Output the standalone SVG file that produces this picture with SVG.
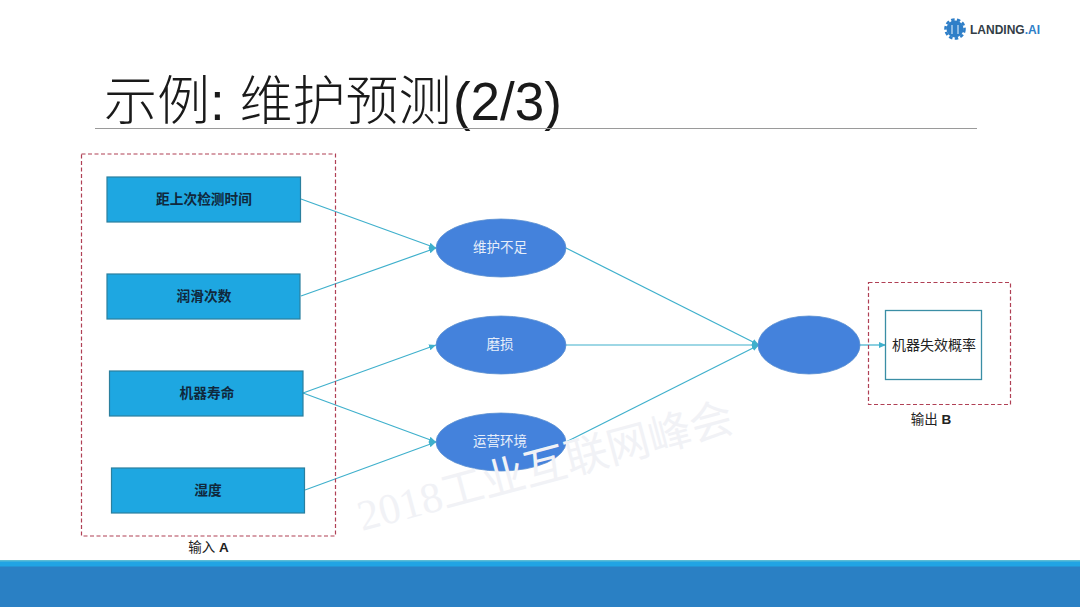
<svg xmlns="http://www.w3.org/2000/svg" width="1080" height="607" viewBox="0 0 1080 607">
<style>
text{font-family:"Liberation Sans","Noto Sans CJK SC",sans-serif;text-anchor:middle}
.box{fill:#1ea7e1;stroke:#2a7f9e;stroke-width:1.2}
.ell{fill:#4482dc;stroke:#5b8fd0;stroke-width:.8}
.frame{fill:none;stroke:#b04055;stroke-width:1.2;stroke-dasharray:4 2.5}
.c{fill:none;stroke:#3fb0cc;stroke-width:1.2;marker-end:url(#a)}
.bt{font-size:13.700px;font-weight:700;fill:#10283c}
.et{font-size:13.500px;fill:#e6eefa}
.cap{font-size:13.500px;fill:#222}
</style>
<defs><marker id="a" markerWidth="8" markerHeight="8" refX="7" refY="3.500" orient="auto" markerUnits="userSpaceOnUse"><path d="M0 .5L7 3.500L0 6.500z" fill="#3fb0cc"/></marker></defs>
<rect width="1080" height="607" fill="#fff"/>
<g id="logo">
<circle cx="955" cy="29" r="8.500" fill="#2f7fc8"/>
<circle cx="955" cy="29" r="9.500" fill="none" stroke="#2f7fc8" stroke-width="2.600" stroke-dasharray="3.500 2.300"/>
<path d="M952 25v9M958 25v9" stroke="#cfe3f5" stroke-width="1.200"/>
<text x="970" y="33.500" font-size="12" font-weight="700" fill="#333d47" style="text-anchor:start">LANDING<tspan fill="#2f7fc8">.AI</tspan></text>
</g>
<g id="title">
<text x="104" y="120" font-size="53" font-weight="300" fill="#1a1a1a" style="text-anchor:start" xml:space="preserve">示例: 维护预测<tspan dx="1.500">(2/3)</tspan></text>
<line x1="95" y1="128.500" x2="977" y2="128.500" stroke="#9a9a9a" stroke-width="1"/>
</g>
<g id="connectors">
<line class="c" x1="301" y1="199" x2="436" y2="248"/>
<line class="c" x1="301" y1="296" x2="436" y2="248"/>
<line class="c" x1="303" y1="393" x2="436" y2="345"/>
<line class="c" x1="303" y1="393" x2="436" y2="442"/>
<line class="c" x1="305" y1="490" x2="436" y2="442"/>
<line class="c" x1="566" y1="248" x2="759" y2="345"/>
<line class="c" x1="566" y1="345" x2="759" y2="345"/>
<line class="c" x1="566" y1="442" x2="759" y2="345"/>
<line class="c" x1="860" y1="345" x2="886" y2="345"/>
</g>
<g id="input-frame"><rect class="frame" x="81.500" y="154" width="254" height="382"/><text class="cap" x="208.500" y="552">输入 <tspan font-weight="700">A</tspan></text></g>
<g id="n1"><rect class="box" x="107" y="177" width="193.500" height="45"/><text class="bt" x="204" y="204">距上次检测时间</text></g>
<g id="n2"><rect class="box" x="107" y="274" width="193" height="45"/><text class="bt" x="204" y="301">润滑次数</text></g>
<g id="n3"><rect class="box" x="109.500" y="371" width="193.500" height="45"/><text class="bt" x="207" y="398">机器寿命</text></g>
<g id="n4"><rect class="box" x="111.500" y="468" width="193" height="45"/><text class="bt" x="208" y="495">湿度</text></g>
<g id="e1"><ellipse class="ell" cx="501" cy="248" rx="65" ry="29"/><text class="et" x="500" y="252">维护不足</text></g>
<g id="e2"><ellipse class="ell" cx="501" cy="345" rx="65" ry="29"/><text class="et" x="500" y="349">磨损</text></g>
<g id="e3"><ellipse class="ell" cx="501" cy="442" rx="65" ry="29"/><text class="et" x="500" y="446">运营环境</text></g>
<g id="e4"><ellipse class="ell" cx="809" cy="345" rx="51" ry="29"/></g>
<g id="output-frame"><rect class="frame" x="868.500" y="282.500" width="142" height="122"/><text class="cap" x="931" y="424">输出 <tspan font-weight="700">B</tspan></text></g>
<g id="n5"><rect x="885.500" y="310.500" width="96" height="69" fill="#fff" stroke="#3a8ea5" stroke-width="1.300"/><text x="934" y="349.500" font-size="14" fill="#222">机器失效概率</text></g>
<g id="watermark"><text transform="translate(549 481) rotate(-15)" font-size="43" fill="#f1f2f6" style="font-family:'Liberation Serif','Noto Sans CJK SC',serif">2018工业互联网峰会</text></g>
<g id="footer">
<rect y="560" width="1080" height="47" fill="#2a80c4"/>
<rect y="560" width="1080" height="6.500" fill="#21a4e4"/>
<rect y="560" width="1080" height="1.500" fill="#5cbcd4"/>
</g>
</svg>
